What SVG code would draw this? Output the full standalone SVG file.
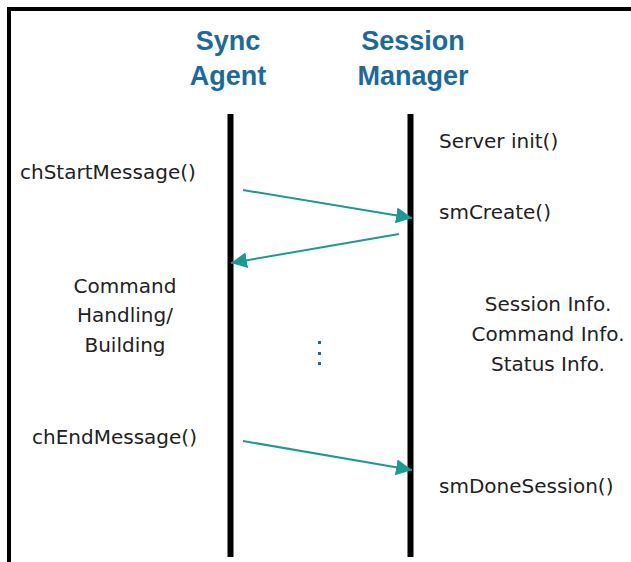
<svg xmlns="http://www.w3.org/2000/svg" width="631" height="562" viewBox="0 0 631 562">
  <style>
    .frame { stroke: #000; stroke-width: 4; fill: none; }
    .lifeline { stroke: #000; stroke-width: 6; }
    .head { font-family: "Liberation Sans", Arial, sans-serif; font-weight: bold; font-size: 27px; fill: #1b6a9c; text-anchor: middle; }
    .lbl { font-family: "DejaVu Sans", Verdana, sans-serif; font-size: 20px; fill: #222; }
    .mid { text-anchor: middle; }
    .msg { stroke: #1a9a94; stroke-width: 2; fill: none; marker-end: url(#arrow); }
    .dot { fill: #1b6a9c; }
  </style>
  <defs>
    <marker id="arrow" markerUnits="userSpaceOnUse" markerWidth="17" markerHeight="16" refX="16" refY="8" orient="auto">
      <path d="M0,0 L16,8 L0,16 Z" fill="#1a9a94"/>
    </marker>
  </defs>

  <rect width="631" height="562" fill="#fff"/>

  <!-- outer frame: top and left edges only -->
  <path class="frame" d="M9,562 L9,9 L631,9"/>

  <g id="sync-agent">
    <text class="head" x="228" y="50">Sync</text>
    <text class="head" x="228" y="85">Agent</text>
    <line class="lifeline" x1="230.5" y1="114" x2="230.5" y2="557"/>
  </g>

  <g id="session-manager">
    <text class="head" x="413" y="50">Session</text>
    <text class="head" x="413" y="85">Manager</text>
    <line class="lifeline" x1="410.5" y1="114" x2="410.5" y2="557"/>
  </g>

  <g id="labels-left">
    <text class="lbl" x="20" y="179">chStartMessage()</text>
    <text class="lbl mid" x="125" y="293">Command</text>
    <text class="lbl mid" x="125" y="322">Handling/</text>
    <text class="lbl mid" x="125" y="352">Building</text>
    <text class="lbl" x="32" y="444">chEndMessage()</text>
  </g>

  <g id="labels-right">
    <text class="lbl" x="439" y="148">Server init()</text>
    <text class="lbl" x="439" y="219">smCreate()</text>
    <text class="lbl mid" x="548" y="311">Session Info.</text>
    <text class="lbl mid" x="548" y="341">Command Info.</text>
    <text class="lbl mid" x="548" y="371">Status Info.</text>
    <text class="lbl" x="439" y="493">smDoneSession()</text>
  </g>

  <g id="ellipsis">
    <rect class="dot" x="318" y="341" width="3" height="3"/>
    <rect class="dot" x="318" y="352" width="3" height="3"/>
    <rect class="dot" x="318" y="362" width="3" height="3"/>
  </g>

  <g id="connectors">
    <line class="msg" x1="243" y1="190" x2="412" y2="218"/>
    <line class="msg" x1="399" y1="234" x2="231" y2="263"/>
    <line class="msg" x1="243" y1="441" x2="412" y2="470"/>
  </g>
</svg>
